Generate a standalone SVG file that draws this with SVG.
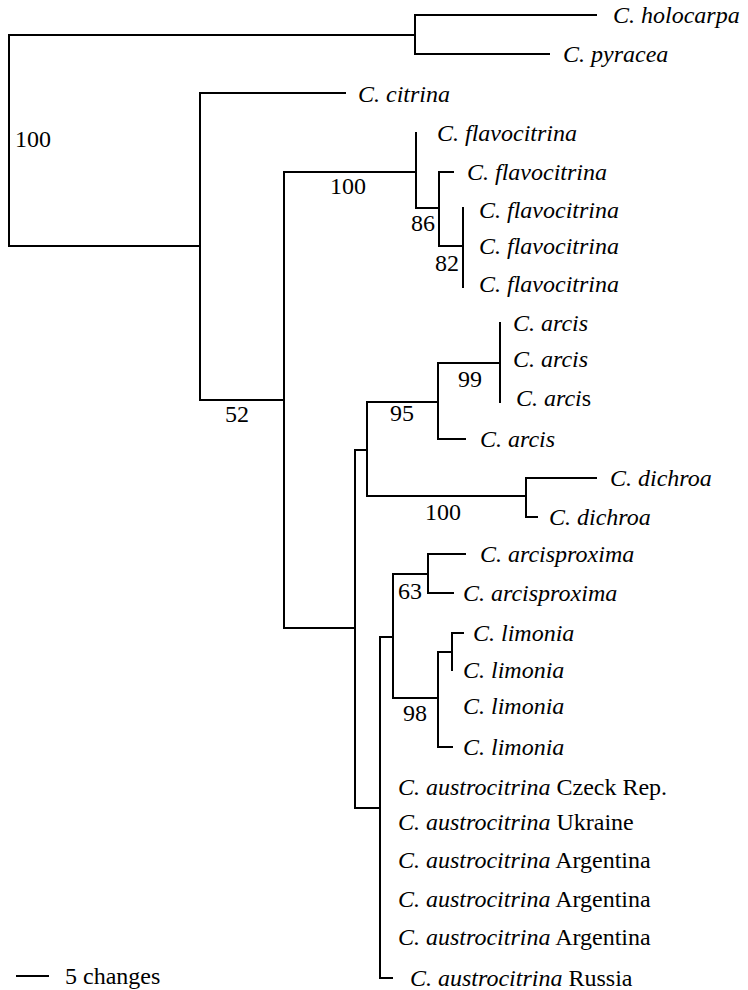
<svg xmlns="http://www.w3.org/2000/svg" width="748" height="990" viewBox="0 0 748 990">
<style>
.e{fill:none;stroke:#000;stroke-width:2;stroke-linecap:square}
text{font-family:"Liberation Serif","Times New Roman",serif;font-size:24px;fill:#000}
.t{font-style:italic}
.r{font-style:normal}
.s{text-anchor:middle}
</style>
<rect width="748" height="990" fill="#fff"/>
<g id="connectors">
<path class="e" d="M9 35V246M9 35H415M9 246H200"/>
<path class="e" d="M415 15V54M415 15H596M415 54H549"/>
<path class="e" d="M200 93V400M200 93H345M200 400H284"/>
<path class="e" d="M284 172V628M284 172H416M284 628H355"/>
<path class="e" d="M416 133V208H439M439 172V246M439 172H453M439 246H463M463 208V287"/>
<path class="e" d="M355 450V808M355 450H367M355 808H380"/>
<path class="e" d="M367 402V496M367 402H438M367 496H526"/>
<path class="e" d="M438 363V439M438 363H500M438 439H465M500 323V402"/>
<path class="e" d="M526 478V517M526 478H596M526 517H537"/>
<path class="e" d="M380 637V978M380 637H393M380 978H392"/>
<path class="e" d="M393 574V698M393 574H428M393 698H438"/>
<path class="e" d="M428 554V593M428 554H465M428 593H453"/>
<path class="e" d="M438 652V747M438 652H452M438 747H452M452 633V670M452 633H463"/>
<path class="e" d="M17 976H48"/>
</g>
<g id="taxa">
<text id="holocarpa" class="t" x="613" y="23">C. holocarpa</text>
<text id="pyracea" class="t" x="563" y="62">C. pyracea</text>
<text id="citrina" class="t" x="358" y="102">C. citrina</text>
<text id="flavo1" class="t" x="437" y="141">C. flavocitrina</text>
<text id="flavo2" class="t" x="467" y="180">C. flavocitrina</text>
<text id="flavo3" class="t" x="479" y="218">C. flavocitrina</text>
<text id="flavo4" class="t" x="479" y="254">C. flavocitrina</text>
<text id="flavo5" class="t" x="479" y="292">C. flavocitrina</text>
<text id="arcis1" class="t" x="513" y="331">C. arcis</text>
<text id="arcis2" class="t" x="513" y="367">C. arcis</text>
<text id="arcis3" class="t" x="516" y="406">C. arci<tspan class="r">s</tspan></text>
<text id="arcis4" class="t" x="480" y="447">C. arcis</text>
<text id="dichroa1" class="t" x="610" y="486">C. dichroa</text>
<text id="dichroa2" class="t" x="549" y="525">C. dichroa</text>
<text id="arcisprox1" class="t" x="480" y="562">C. arcisproxima</text>
<text id="arcisprox2" class="t" x="463" y="601">C. arcisproxima</text>
<text id="limonia1" class="t" x="473" y="641">C. limonia</text>
<text id="limonia2" class="t" x="463" y="678">C. limonia</text>
<text id="limonia3" class="t" x="463" y="714">C. limonia</text>
<text id="limonia4" class="t" x="463" y="755">C. limonia</text>
<text id="austro1" x="398" y="795"><tspan class="t">C. austrocitrina</tspan> Czeck Rep.</text>
<text id="austro2" x="398" y="830"><tspan class="t">C. austrocitrina</tspan> Ukraine</text>
<text id="austro3" x="398" y="868"><tspan class="t">C. austrocitrina</tspan> Argentina</text>
<text id="austro4" x="398" y="907"><tspan class="t">C. austrocitrina</tspan> Argentina</text>
<text id="austro5" x="398" y="945"><tspan class="t">C. austrocitrina</tspan> Argentina</text>
<text id="austro6" x="410" y="986"><tspan class="t">C. austrocitrina</tspan> Russia</text>
</g>
<g id="support">
<text x="15" y="147">100</text>
<text class="s" x="348" y="194">100</text>
<text class="s" x="423" y="231">86</text>
<text class="s" x="447" y="271">82</text>
<text class="s" x="237" y="422">52</text>
<text class="s" x="470" y="387">99</text>
<text class="s" x="402" y="421">95</text>
<text class="s" x="443" y="520">100</text>
<text class="s" x="410" y="599">63</text>
<text class="s" x="415" y="721">98</text>
</g>
<g id="scale">
<text x="65" y="984">5 changes</text>
</g>
</svg>
